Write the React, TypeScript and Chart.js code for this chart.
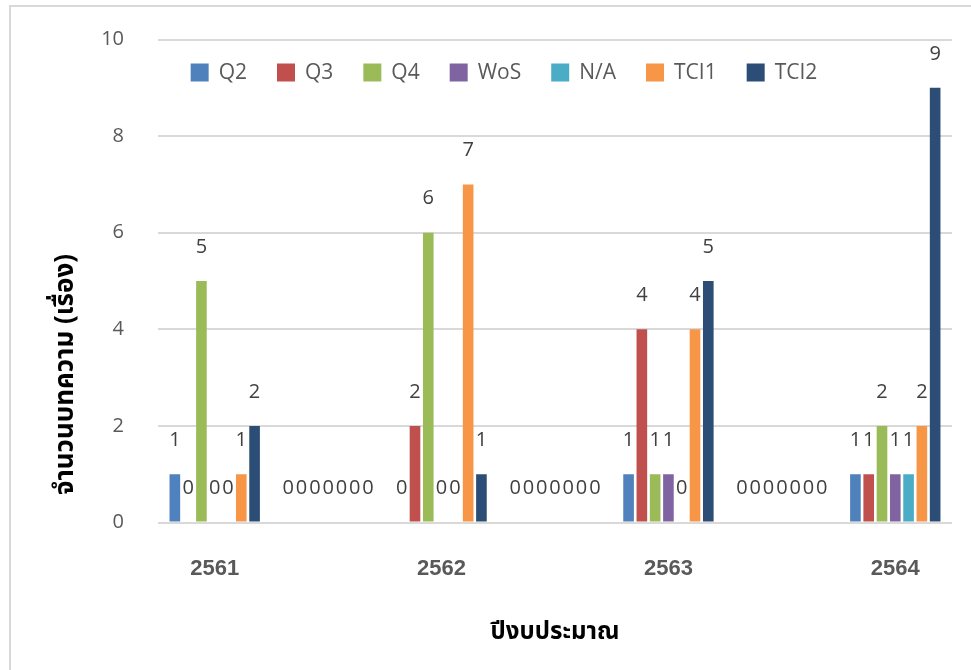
import React, { useEffect, useRef } from "react";
import { Chart, registerables } from "chart.js";

Chart.register(...registerables);

// ---- data ----
const categories = ["2561", "", "2562", "", "2563", "", "2564"];
const seriesNames = ["Q2", "Q3", "Q4", "WoS", "N/A", "TCI1", "TCI2"];
const q2Values = [1, 0, 0, 0, 1, 0, 1];
const q3Values = [0, 0, 2, 0, 4, 0, 1];
const q4Values = [5, 0, 6, 0, 1, 0, 2];
const wosValues = [0, 0, 0, 0, 1, 0, 1];
const naValues = [0, 0, 0, 0, 0, 0, 1];
const tci1Values = [1, 0, 7, 0, 4, 0, 2];
const tci2Values = [2, 0, 1, 0, 5, 0, 9];
const seriesColors = ["#4F81BD", "#C0504D", "#9BBB59", "#8064A2", "#4BACC6", "#F79646", "#2C4D75"];
const yMin = 0;
const yMax = 10;
const yStep = 2;
const yTitle = "จำนวนบทความ (เรื่อง)";
const xTitle = "ปีงบประมาณ";

const seriesValues = [q2Values, q3Values, q4Values, wosValues, naValues, tci1Values, tci2Values];

const BASE_FONT = "'Open Sans', 'Noto Sans', sans-serif";
const THAI_FONT = "'Noto Sans Thai', 'Noto Sans', 'DejaVu Sans', sans-serif";

const overlayPlugin = {
  id: "overlayPlugin",
  afterDatasetsDraw(chart: any) {
    const ctx = chart.ctx;
    ctx.save();
    ctx.font = `20px ${BASE_FONT}`;
    ctx.fillStyle = "#404040";
    ctx.textAlign = "center";
    ctx.textBaseline = "middle";
    chart.data.datasets.forEach((ds: any, i: number) => {
      const meta = chart.getDatasetMeta(i);
      meta.data.forEach((el: any, j: number) => {
        ctx.fillText(String(ds.data[j]), el.x, el.y - 34);
      });
    });
    ctx.restore();
  },
  afterDraw(chart: any) {
    const ctx = chart.ctx;
    const area = chart.chartArea;
    ctx.save();
    // y-axis title
    ctx.translate(68, area.top + 335);
    ctx.rotate(-Math.PI / 2);
    ctx.font = `bold 26px ${THAI_FONT}`;
    ctx.fillStyle = "#000000";
    ctx.textAlign = "center";
    ctx.textBaseline = "middle";
    ctx.fillText(yTitle, 0, 0);
    ctx.restore();

    // legend inside plot area
    ctx.save();
    ctx.font = `21px ${BASE_FONT}`;
    const box = 18;
    const gap = 10;
    const spacing = 30;
    const widths = chart.data.datasets.map((ds: any) => box + gap + ctx.measureText(ds.label).width);
    const total = widths.reduce((a: number, b: number) => a + b, 0) + spacing * (widths.length - 1);
    let x = area.left + 346 - total / 2;
    const cy = area.top + 33;
    chart.data.datasets.forEach((ds: any, i: number) => {
      ctx.fillStyle = ds.backgroundColor;
      ctx.fillRect(x, cy - box / 2, box, box);
      ctx.fillStyle = "#595959";
      ctx.textAlign = "left";
      ctx.textBaseline = "middle";
      ctx.fillText(ds.label, x + box + gap, cy + 1);
      x += widths[i] + spacing;
    });
    ctx.restore();
  },
};

export default function App() {
  const canvasRef = useRef<HTMLCanvasElement | null>(null);

  useEffect(() => {
    if (!canvasRef.current) return;
    const chart = new Chart(canvasRef.current, {
      type: "bar",
      data: {
        labels: categories,
        datasets: seriesNames.map((name, i) => ({
          label: name,
          data: seriesValues[i],
          backgroundColor: seriesColors[i],
          borderWidth: 0,
          categoryPercentage: 0.82,
          barPercentage: 0.8,
        })),
      },
      options: {
        animation: false,
        responsive: false,
        devicePixelRatio: 1,
        layout: { padding: { left: 0, right: 19, top: 39.5, bottom: 21.8 } },
        plugins: {
          legend: { display: false },
          tooltip: { enabled: false },
          title: { display: false },
        },
        scales: {
          x: {
            afterFit: (scale: any) => {
              scale.height = 125.7;
              scale.paddingTop = 0;
              scale.paddingBottom = 0;
            },
            grid: { display: false, drawTicks: false },
            border: { display: false },
            ticks: {
              padding: 33.5,
              color: "#595959",
              font: { family: "'Liberation Sans', Arial, sans-serif", size: 22, weight: "bold" },
              maxRotation: 0,
              autoSkip: false,
            },
            title: {
              display: true,
              text: xTitle,
              color: "#000000",
              font: { family: THAI_FONT, size: 24, weight: "bold" },
              padding: { top: 42, bottom: 0 },
            },
          },
          y: {
            min: yMin,
            max: yMax,
            afterFit: (scale: any) => {
              scale.width = 158;
              scale.paddingTop = 0;
              scale.paddingBottom = 0;
            },
            grid: { color: "#d9d9d9", lineWidth: 2, drawTicks: false },
            border: { display: false },
            ticks: {
              stepSize: yStep,
              padding: 34,
              color: "#595959",
              font: { family: BASE_FONT, size: 20 },
            },
          },
        },
      },
      plugins: [overlayPlugin],
    } as any);
    return () => chart.destroy();
  }, []);

  return (
    <div style={{ position: "absolute", left: 0, top: 0, width: 971, height: 670, overflow: "hidden", background: "#fff" }}>
      <canvas ref={canvasRef} width={971} height={670} style={{ position: "absolute", left: 0, top: 0 }} />
      <div
        style={{
          position: "absolute",
          left: 9,
          top: 5,
          width: 962,
          height: 665,
          boxSizing: "border-box",
          borderLeft: "2px solid #d9d9d9",
          borderTop: "2px solid #d9d9d9",
          pointerEvents: "none",
        }}
      />
    </div>
  );
}
